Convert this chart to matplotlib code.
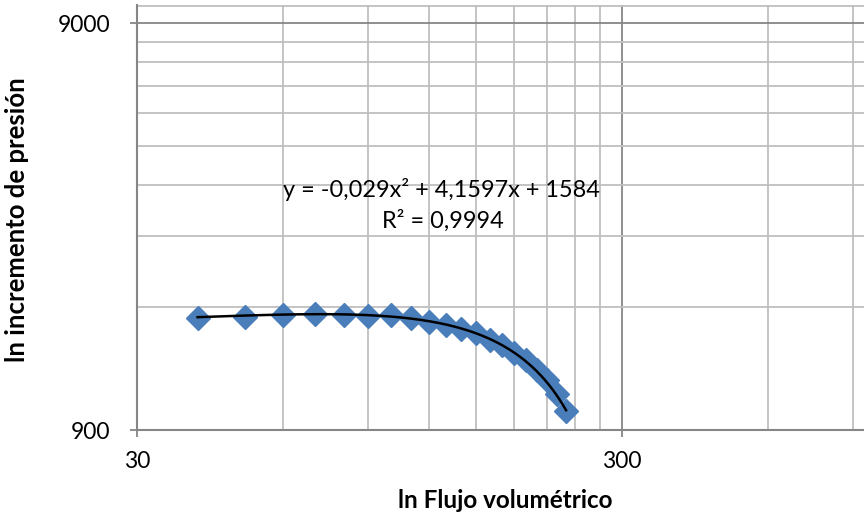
import numpy as np
import matplotlib
matplotlib.use("Agg")
import matplotlib.pyplot as plt
from matplotlib.ticker import FixedLocator, FixedFormatter, NullFormatter

# ---- data ----
flow = [40, 50, 60, 70, 80, 90, 100, 110, 120, 130,
        140, 150, 160, 170, 180, 190, 200, 210, 220, 230]
pressure = [1697, 1710, 1725, 1735, 1726, 1712, 1722, 1700, 1662, 1632,
            1593, 1556, 1500, 1455, 1390, 1335, 1262, 1195, 1105, 1000]
trend_coef = [-0.029, 4.1597, 1584]
equation_text = "y = -0,029x² + 4,1597x + 1584"
r2_text = "R² = 0,9994"

x_major = [30, 300]
x_major_labels = ["30", "300"]
x_minor = [60, 90, 120, 150, 180, 210, 240, 270, 600, 900]
y_major = [900, 9000]
y_major_labels = ["900", "9000"]
y_minor = [1800, 2700, 3600, 4500, 5400, 6300, 7200, 8100, 9900]

x_title = "ln Flujo volumétrico"
y_title = "ln incremento de presión"

# ---- figure ----
W, H = 864, 518
plt.rcParams["font.family"] = ["Lato", "DejaVu Sans"]
fig = plt.figure(figsize=(W / 100, H / 100), dpi=100)

left_px, right_px, bottom_px, top_px = 137, 864, 430, 5
ax = fig.add_axes([left_px / W, (H - bottom_px) / H,
                   (right_px - left_px) / W, (bottom_px - top_px) / H])
ax.set_xscale("log")
ax.set_yscale("log")
ax.set_xlim(30, 30 * 10 ** ((right_px - left_px) / 485))
ax.set_ylim(900, 900 * 10 ** ((bottom_px - top_px) / 407))

major_c = "#868686"
minor_c = "#bfbfbf"

ax.xaxis.set_major_locator(FixedLocator(x_major))
ax.xaxis.set_major_formatter(FixedFormatter(x_major_labels))
ax.xaxis.set_minor_locator(FixedLocator(x_minor))
ax.xaxis.set_minor_formatter(NullFormatter())
ax.yaxis.set_major_locator(FixedLocator(y_major))
ax.yaxis.set_major_formatter(FixedFormatter(y_major_labels))
ax.yaxis.set_minor_locator(FixedLocator(y_minor))
ax.yaxis.set_minor_formatter(NullFormatter())

ax.grid(which="major", color=major_c, linewidth=1.3, zorder=0)
ax.grid(which="minor", color=minor_c, linewidth=1.3, zorder=0)
ax.set_axisbelow(True)

for s in ["top", "right"]:
    ax.spines[s].set_visible(False)
for s in ["left", "bottom"]:
    ax.spines[s].set_color(major_c)
    ax.spines[s].set_linewidth(1.5)

ax.tick_params(which="major", direction="out", length=5, width=1.3,
               color=major_c, labelsize=16.5, labelcolor="black")
ax.tick_params(axis="y", which="major", pad=14)
ax.tick_params(axis="x", which="major", pad=10)
ax.tick_params(which="minor", length=0)

# markers
ax.plot(flow, pressure, linestyle="none", marker="D", markersize=12,
        color="#4a7ebb", markeredgecolor="#4a7ebb", zorder=3, clip_on=False)

# trendline
xs = np.linspace(min(flow), max(flow), 300)
ax.plot(xs, np.polyval(trend_coef, xs), color="black", linewidth=1.8, zorder=4)

# equation labels
fig.text(441 / W, 1 - 190 / H, equation_text, ha="center", va="center",
         fontsize=16.9, color="black")
fig.text(443 / W, 1 - 221 / H, r2_text, ha="center", va="center",
         fontsize=16.9, color="black")

# axis titles
fig.text(505 / W, 1 - 501 / H, x_title, ha="center", va="center",
         fontsize=17.5, fontweight="bold")
fig.text(17 / W, 1 - 220 / H, y_title, ha="center", va="center",
         rotation=90, fontsize=18.5, fontweight="bold")

fig.savefig("out.png", dpi=100)
